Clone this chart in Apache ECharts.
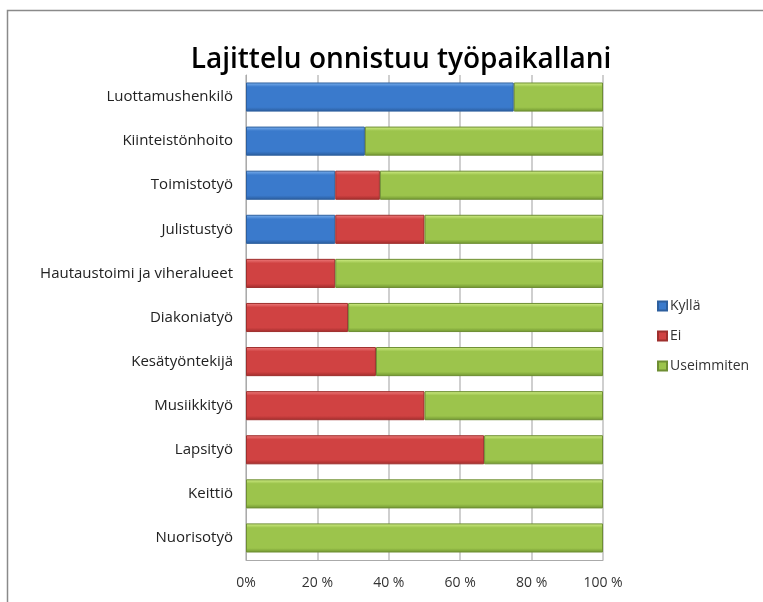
<!DOCTYPE html>
<html>
<head>
<meta charset="utf-8">
<script src="https://cdn.jsdelivr.net/npm/echarts@6/dist/echarts.min.js"></script>
<style>
  html, body { margin: 0; padding: 0; background: #fff; }
  #main { width: 763px; height: 602px; }
</style>
</head>
<body>
<div id="main"></div>
<script>
// categories, top to bottom
const categories = ['Luottamushenkilö', 'Kiinteistönhoito', 'Toimistotyö', 'Julistustyö',
  'Hautaustoimi ja viheralueet', 'Diakoniatyö', 'Kesätyöntekijä', 'Musiikkityö',
  'Lapsityö', 'Keittiö', 'Nuorisotyö'];
// shares in percent
const kylla = [75, 33.3, 25, 25, 0, 0, 0, 0, 0, 0, 0];
const ei = [0, 0, 12.5, 25, 25, 28.6, 36.4, 50, 66.7, 0, 0];
const useimmiten = [25, 66.7, 62.5, 50, 75, 71.4, 63.6, 50, 33.3, 100, 100];
const tickLabels = ['0%', '20 %', '40 %', '60 %', '80 %', '100 %'];

const myChart = echarts.init(document.getElementById('main'));

function grad(top, mid, bottom) {
  return new echarts.graphic.LinearGradient(0, 0, 0, 1, [
    { offset: 0, color: top },
    { offset: 0.15, color: mid },
    { offset: 0.85, color: mid },
    { offset: 1, color: bottom }
  ]);
}
// empty segments should not leave a border sliver
const noZero = arr => arr.map(v => (v === 0 ? null : v));

const font = '"Open Sans", Lato, sans-serif';

const option = {
  animation: false,
  title: {
    text: 'Lajittelu onnistuu työpaikallani',
    left: 396,
    textAlign: 'center',
    top: 41,
    textStyle: { fontFamily: font, fontSize: 28, fontWeight: 600, color: '#000' }
  },
  legend: {
    orient: 'vertical',
    left: 652,
    top: 294,
    itemWidth: 9,
    itemHeight: 9,
    itemGap: 16,
    icon: 'rect',
    textStyle: { fontFamily: font, fontSize: 14, color: '#333', padding: [0, 0, 0, -2] },
    data: ['Kyllä', 'Ei', 'Useimmiten']
  },
  grid: { left: 246, right: 160, top: 75, bottom: 42 },
  xAxis: {
    type: 'value',
    min: 0,
    max: 100,
    interval: 20,
    axisLine: { show: true, lineStyle: { color: '#aaa', width: 1 } },
    axisTick: { show: false },
    splitLine: { show: true, lineStyle: { color: '#cfcfcf', width: 2 } },
    axisLabel: {
      margin: 16,
      fontFamily: font,
      fontSize: 14,
      color: '#333',
      formatter: function (v) { return tickLabels[Math.round(v / 20)]; }
    }
  },
  yAxis: {
    type: 'category',
    data: categories,
    inverse: true,
    axisLine: { show: true, lineStyle: { color: '#aaa', width: 1 } },
    axisTick: { show: false },
    axisLabel: { margin: 13, fontFamily: font, fontSize: 15, color: '#222' }
  },
  series: [
    {
      name: 'Kyllä', type: 'bar', stack: 'all', barCategoryGap: '34%',
      data: noZero(kylla),
      itemStyle: { color: grad('#80b4f0', '#3a7acc', '#2a5c9c'), borderColor: '#2d5f9e', borderWidth: 1 }
    },
    {
      name: 'Ei', type: 'bar', stack: 'all',
      data: noZero(ei),
      itemStyle: { color: grad('#f08080', '#d04242', '#a02c2c'), borderColor: '#9e2f2d', borderWidth: 1 }
    },
    {
      name: 'Useimmiten', type: 'bar', stack: 'all',
      data: noZero(useimmiten),
      itemStyle: { color: grad('#d4f08a', '#9cc44c', '#6f9430'), borderColor: '#6e8e33', borderWidth: 1 }
    }
  ],
  graphic: [
    {
      type: 'rect',
      shape: { x: 7.5, y: 10.5, width: 800, height: 700 },
      style: { fill: 'none', stroke: '#8a8a8a', lineWidth: 1.5 },
      silent: true
    }
  ]
};

myChart.setOption(option);
</script>
</body>
</html>
